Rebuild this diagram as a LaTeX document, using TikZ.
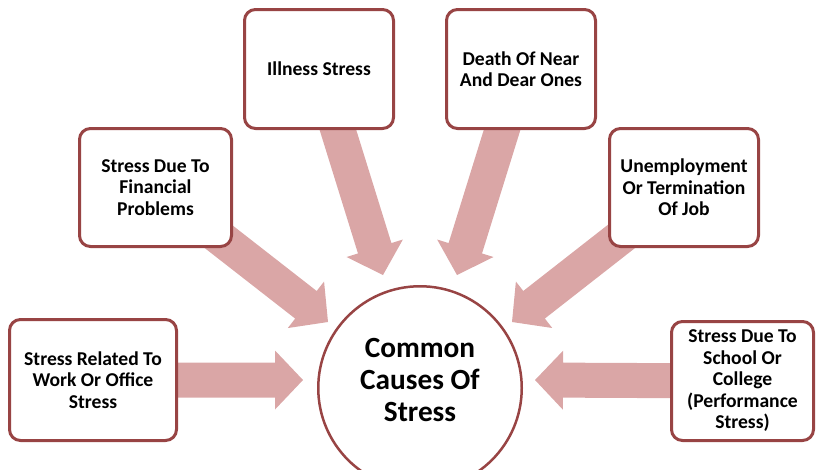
\documentclass[tikz,border=0pt]{standalone}
\usepackage{fontspec}
\setmainfont{Carlito}
\usetikzlibrary{calc}
\definecolor{rim}{RGB}{152,68,68}
\definecolor{shaft}{RGB}{218,166,166}
\pgfdeclarelayer{back}
\pgfsetlayers{back,main}

\tikzset{
  cause/.style={draw=rim, line width=3pt, fill=white, rounded corners=11pt,
    align=center, inner sep=2pt,
    font=\bfseries\fontsize{19.6}{21.5}\selectfont},
  hub/.style={circle, draw=rim, line width=2.5pt, fill=white, minimum size=203.5pt},
  hubtext/.style={align=center, font=\bfseries\fontsize{29.3}{32}\selectfont},
  arrowfill/.style={fill=shaft}
}

% block arrow from the centre of a box (#1) to a tip coordinate (#2)
\newcommand\causearrow[2]{%
  \path (#1.center) coordinate (ca-s) ($(#2)!28pt!(#1.center)$) coordinate (ca-h);
  \fill[arrowfill]
    ($(ca-s)!17.5pt!90:(#2)$) -- ($(ca-h)!17.5pt!90:(#2)$) --
    ($(ca-h)!29.5pt!90:(#2)$) -- (#2) --
    ($(ca-h)!29.5pt!-90:(#2)$) -- ($(ca-h)!17.5pt!-90:(#2)$) --
    ($(ca-s)!17.5pt!-90:(#2)$) -- cycle;
}

\begin{document}
\begin{tikzpicture}[x=1pt,y=-1pt]
\useasboundingbox (0,0) rectangle (818,469);

% centre
\node[hub] (hub) at (420,388) {};
\node[hubtext] (hubt) at (420,380) {Common\\Causes Of\\Stress};

% causes
\node[cause, minimum width=167pt, minimum height=121pt] (work)   at (93,380)    {Stress Related To\\Work Or Office\\Stress};
\node[cause, minimum width=152pt, minimum height=118pt] (fin)    at (155.5,187.5) {Stress Due To\\Financial\\Problems};
\node[cause, minimum width=149pt, minimum height=119pt] (ill)    at (319,69)    {Illness Stress};
\node[cause, minimum width=149pt, minimum height=119pt] (death)  at (521,69)    {Death Of Near\\And Dear Ones};
\node[cause, minimum width=149pt, minimum height=118pt] (unemp)  at (684,187.5) {Unemployment\\Or Termination\\Of Job};
\node[cause, minimum width=142pt, minimum height=119pt] (school) at (742.5,381) {Stress Due To\\School Or\\College\\(Performance\\Stress)};

% arrow tips next to the centre circle
\coordinate (t-work)   at (303,380);
\coordinate (t-fin)    at (328,322);
\coordinate (t-ill)    at (383,275);
\coordinate (t-death)  at (457,275);
\coordinate (t-unemp)  at (512,322);
\coordinate (t-school) at (535,380);

\begin{pgfonlayer}{back}
  \causearrow{work}{t-work}
  \causearrow{fin}{t-fin}
  \causearrow{ill}{t-ill}
  \causearrow{death}{t-death}
  \causearrow{unemp}{t-unemp}
  \causearrow{school}{t-school}
\end{pgfonlayer}
\end{tikzpicture}
\end{document}
